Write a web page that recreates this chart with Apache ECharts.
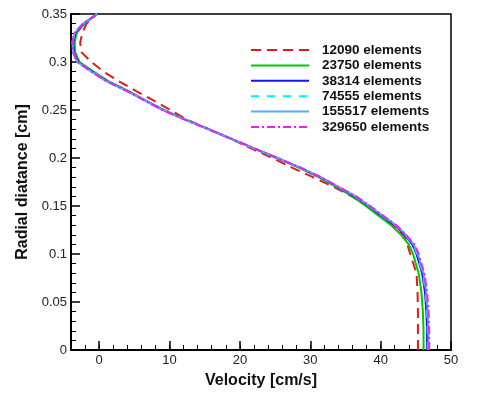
<!DOCTYPE html>
<html>
<head>
<meta charset="utf-8">
<script src="https://cdn.jsdelivr.net/npm/echarts@6/dist/echarts.min.js"></script>
<style>
  html, body { margin: 0; padding: 0; background: #fff; }
  #chart { width: 480px; height: 397px; }
</style>
</head>
<body>
<div id="chart"></div>
<script>
// radial positions [cm] shared by all curves
const radius = [0, 0.02, 0.04, 0.06, 0.08, 0.10, 0.11, 0.12, 0.13, 0.14, 0.15, 0.16, 0.17, 0.18, 0.19,
  0.20, 0.21, 0.22, 0.23, 0.24, 0.25, 0.26, 0.27, 0.28, 0.29, 0.30, 0.31, 0.32, 0.33, 0.34, 0.35];

// velocity [cm/s] for each mesh
const vel12090 = [45.3, 45.3, 45.3, 45.25, 45.1, 44.2, 43.8, 43.3, 41.7, 39.9, 38.1, 35.9, 33.3, 30.4, 27.4,
  24.6, 21.6, 18.7, 15.6, 12.5, 10.1, 7.7, 5.2, 2.8, 0.6, -1.1, -2.5, -2.7, -2.4, -1.8, -0.3];
const vel23750 = [46.1, 46.1, 46.0, 45.8, 45.4, 44.6, 44.0, 42.9, 41.5, 39.7, 37.9, 36.0, 33.7, 31.2, 28.4,
  25.3, 22.0, 18.8, 15.6, 12.3, 9.2, 6.6, 4.1, 1.3, -0.8, -2.8, -3.4, -3.5, -3.2, -2.1, -0.3];
const vel38314 = [46.6, 46.6, 46.5, 46.3, 45.9, 45.1, 44.5, 43.4, 42.0, 40.1, 38.3, 36.3, 33.9, 31.4, 28.5,
  25.3, 22.0, 18.8, 15.5, 12.2, 9.1, 6.5, 4.0, 1.1, -1.0, -3.0, -3.6, -3.7, -3.4, -2.2, -0.3];
const vel74555 = [46.7, 46.7, 46.6, 46.4, 46.0, 45.2, 44.6, 43.5, 42.1, 40.2, 38.4, 36.4, 34.0, 31.5, 28.6,
  25.3, 22.0, 18.8, 15.5, 12.2, 9.1, 6.5, 3.9, 1.1, -1.0, -3.1, -3.7, -3.8, -3.5, -2.3, -0.3];
const vel155517 = [46.8, 46.8, 46.7, 46.5, 46.1, 45.3, 44.7, 43.6, 42.2, 40.3, 38.4, 36.5, 34.0, 31.5, 28.6,
  25.3, 22.0, 18.8, 15.5, 12.2, 9.1, 6.5, 3.9, 1.0, -1.1, -3.1, -3.7, -3.8, -3.5, -2.3, -0.3];
const vel329650 = [46.9, 46.9, 46.8, 46.6, 46.2, 45.4, 44.8, 43.6, 42.2, 40.3, 38.5, 36.5, 34.0, 31.5, 28.6,
  25.3, 22.0, 18.8, 15.5, 12.2, 9.0, 6.4, 3.9, 1.0, -1.1, -3.1, -3.7, -3.8, -3.5, -2.3, -0.3];

const names = ['12090 elements', '23750 elements', '38314 elements', '74555 elements', '155517 elements', '329650 elements'];
const xMajor = [0, 10, 20, 30, 40, 50];

const chart = echarts.init(document.getElementById('chart'), null, { renderer: 'canvas' });

function pair(vel) {
  return vel.map((v, i) => [v, radius[i]]);
}

function line(name, vel, color, type, width) {
  return {
    name: name,
    type: 'line',
    xAxisIndex: 0,
    yAxisIndex: 0,
    data: pair(vel),
    showSymbol: false,
    symbol: 'none',
    smooth: false,
    silent: true,
    lineStyle: { color: color, type: type, width: width },
    itemStyle: { color: color }
  };
}

const font = 'Liberation Sans, Arial, sans-serif';

const option = {
  animation: false,
  backgroundColor: '#fff',
  grid: {
    left: 71, right: 29, top: 14, bottom: 47,
    show: true, borderColor: '#000', borderWidth: 1.5, backgroundColor: 'transparent'
  },
  legend: {
    orient: 'vertical',
    left: 245,
    top: 38,
    itemWidth: 58,
    itemHeight: 14,
    itemGap: 1.4,
    data: names,
    itemStyle: { opacity: 0 },
    textStyle: { fontFamily: font, fontWeight: 'bold', fontSize: 13.5, color: '#111', padding: [0, 0, 0, 8] }
  },
  xAxis: [{
    type: 'value',
    min: -4, max: 50,
    name: 'Velocity [cm/s]',
    nameLocation: 'middle',
    nameGap: 23,
    nameTextStyle: { fontFamily: font, fontWeight: 'bold', fontSize: 16, color: '#111' },
    axisLine: { show: true, onZero: false, lineStyle: { color: '#000', width: 2 } },
    axisTick: { show: true, inside: true, length: 9, lineStyle: { color: '#000', width: 1.5 }, customValues: xMajor },
    axisLabel: { fontFamily: font, fontSize: 13, color: '#222', margin: 4, customValues: xMajor },
    splitLine: { show: false }
  }, {
    // minor ticks every 2 cm/s
    type: 'value',
    position: 'bottom',
    min: -4, max: 50, interval: 2,
    axisLine: { show: false, onZero: false },
    axisTick: { show: true, inside: true, length: 5, lineStyle: { color: '#000', width: 1 } },
    axisLabel: { show: false },
    splitLine: { show: false }
  }],
  yAxis: {
    type: 'value',
    min: 0, max: 0.35, interval: 0.05,
    name: 'Radial diatance [cm]',
    nameLocation: 'middle',
    nameGap: 36,
    nameTextStyle: { fontFamily: font, fontWeight: 'bold', fontSize: 16, color: '#111' },
    axisLine: { show: true, onZero: false, lineStyle: { color: '#000', width: 2 } },
    axisTick: { show: true, inside: true, length: 9, lineStyle: { color: '#000', width: 1.5 } },
    minorTick: { show: true, splitNumber: 5, length: 5, lineStyle: { color: '#000', width: 1 } },
    axisLabel: { fontFamily: font, fontSize: 13, color: '#222', margin: 4 },
    splitLine: { show: false }
  },
  series: [
    line(names[0], vel12090, '#dd1c1c', [10, 6], 2),
    line(names[1], vel23750, '#00c800', 'solid', 2),
    line(names[2], vel38314, '#1414f0', 'solid', 2),
    line(names[3], vel74555, '#00f0f0', [8, 8], 2),
    line(names[4], vel155517, '#5aaaf5', 'solid', 2),
    line(names[5], vel329650, '#f01ef0', [8, 3, 2, 3], 2)
  ]
};

chart.setOption(option);
</script>
</body>
</html>
